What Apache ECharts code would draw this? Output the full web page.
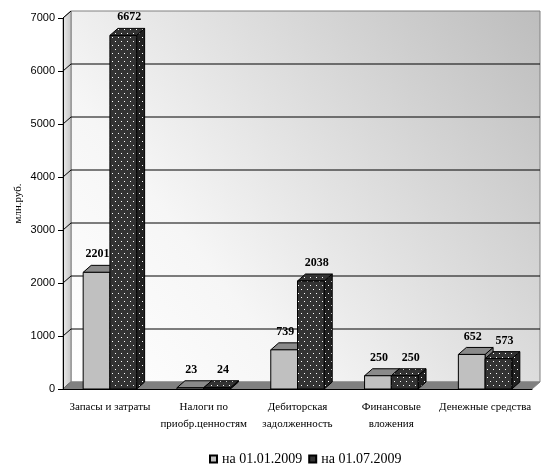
<!DOCTYPE html>
<html>
<head>
<meta charset="utf-8">
<script src="https://cdn.jsdelivr.net/npm/echarts@6/dist/echarts.min.js"></script>
<style>
  html, body { margin: 0; padding: 0; background: #fff; }
  #chart { width: 546px; height: 471px; }
</style>
</head>
<body>
<div id="chart"></div>
<script>
// категории и значения (млн.руб.)
const categories = ['Запасы и затраты', 'Налоги по\nприобр.ценностям', 'Дебиторская\nзадолженность', 'Финансовые\nвложения', 'Денежные средства'];
const seriesNames = ['на 01.01.2009', 'на 01.07.2009'];
const valuesJan = [2201, 23, 739, 250, 652];
const valuesJul = [6672, 24, 2038, 250, 573];
const yMax = 7000;
const yStep = 1000;

// смещение "глубины" для псевдо-3D
const DX = 8, DY = -7;

// точечная заливка для второй серии
function dotPattern(bg) {
    const c = document.createElement('canvas');
    c.width = 6; c.height = 8;
    const ctx = c.getContext('2d');
    ctx.fillStyle = bg;
    ctx.fillRect(0, 0, 6, 8);
    ctx.fillStyle = '#ffffff';
    ctx.fillRect(1, 1, 1, 1);
    ctx.fillRect(4, 5, 1, 1);
    return { image: c, repeat: 'repeat' };
}
const darkFront = dotPattern('#333333');
const darkSide = dotPattern('#222222');

const styles = [
    { front: '#c0c0c0', top: '#8a8a8a', side: '#7a7a7a', labelShift: 1 },
    { front: darkFront, top: darkFront, side: darkSide, labelShift: 6 }
];

// стенки и пол
function renderWalls(params, api) {
    const cs = params.coordSys;
    const left = cs.x, right = cs.x + cs.width;
    const y0 = api.coord([0, 0])[1];
    const yTop = api.coord([0, yMax])[1];
    const children = [];
    // задняя стенка
    children.push({
        type: 'rect',
        shape: { x: left + DX, y: yTop + DY, width: right - left, height: y0 - yTop },
        style: {
            fill: new echarts.graphic.LinearGradient(0, 1, 1, 0, [
                { offset: 0, color: '#ffffff' },
                { offset: 0.3, color: '#f6f6f6' },
                { offset: 1, color: '#bdbdbd' }
            ]),
            stroke: '#808080', lineWidth: 1
        }
    });
    // левая стенка
    children.push({
        type: 'polygon',
        shape: { points: [[left, yTop], [left + DX, yTop + DY], [left + DX, y0 + DY], [left, y0]] },
        style: {
            fill: new echarts.graphic.LinearGradient(0, 0, 1, 0, [
                { offset: 0, color: '#ececec' },
                { offset: 1, color: '#c4c4c4' }
            ]),
            stroke: '#808080', lineWidth: 1
        }
    });
    // линии сетки
    for (let v = 0; v <= yMax; v += yStep) {
        const y = api.coord([0, v])[1];
        if (v > 0 && v < yMax) {
            children.push({
                type: 'line',
                shape: { x1: left + DX, y1: y + DY, x2: right + DX, y2: y + DY },
                style: { stroke: '#000', lineWidth: 1 }
            });
        }
        children.push({
            type: 'line',
            shape: { x1: left, y1: y, x2: left + DX, y2: y + DY },
            style: { stroke: '#000', lineWidth: 1 }
        });
    }
    // пол
    children.push({
        type: 'polygon',
        shape: { points: [[left, y0], [left + DX, y0 + DY], [right + DX, y0 + DY], [right, y0]] },
        style: { fill: '#808080', stroke: '#808080', lineWidth: 1 }
    });
    return { type: 'group', children: children };
}

function barGeom(sIdx, api) {
    const idx = api.value(0);
    const val = api.value(1);
    const base = api.coord([idx, 0]);
    const top = api.coord([idx, val]);
    const w = api.size([1, 0])[0] * 0.285;
    const x0 = sIdx === 0 ? base[0] - w : base[0];
    return { val: val, x0: x0, w: w, yb: base[1], yt: Math.min(top[1], base[1] - 1) };
}

function makeBarRenderer(sIdx) {
    return function (params, api) {
        const g = barGeom(sIdx, api);
        const x0 = g.x0, w = g.w, yb = g.yb, yt = g.yt;
        const st = styles[sIdx];
        const line = { stroke: '#000', lineWidth: 1 };
        return {
            type: 'group',
            children: [
                {
                    type: 'polygon',
                    shape: { points: [[x0 + w, yt], [x0 + w + DX, yt + DY], [x0 + w + DX, yb + DY], [x0 + w, yb]] },
                    style: Object.assign({ fill: st.side }, line)
                },
                {
                    type: 'polygon',
                    shape: { points: [[x0, yt], [x0 + DX, yt + DY], [x0 + w + DX, yt + DY], [x0 + w, yt]] },
                    style: Object.assign({ fill: st.top }, line)
                },
                {
                    type: 'rect',
                    shape: { x: x0, y: yt, width: w, height: yb - yt },
                    style: Object.assign({ fill: st.front }, line)
                }
            ]
        };
    };
}

// подписи значений поверх всех столбиков
function makeLabelRenderer(sIdx) {
    return function (params, api) {
        const g = barGeom(sIdx, api);
        return {
            type: 'text',
            x: g.x0 + g.w / 2 + styles[sIdx].labelShift,
            y: g.yt + DY - 11,
            style: {
                text: String(g.val),
                fill: '#000',
                font: 'bold 12px "Liberation Serif"',
                align: 'center',
                verticalAlign: 'middle'
            }
        };
    };
}

const chart = echarts.init(document.getElementById('chart'));

const option = {
    animation: false,
    grid: { left: 63, right: 14, top: 18, bottom: 82 },
    legend: {
        data: seriesNames,
        top: 447,
        left: 204,
        icon: 'rect',
        itemWidth: 7,
        itemHeight: 7,
        itemGap: 6,
        textStyle: { fontFamily: 'Liberation Serif', fontSize: 14, color: '#000', padding: [0, 0, 0, 0] }
    },
    xAxis: {
        type: 'category',
        data: categories,
        axisLine: { lineStyle: { color: '#000' } },
        axisTick: { length: 5, lineStyle: { color: '#000' } },
        axisLabel: {
            color: '#000',
            fontFamily: 'Liberation Serif',
            fontSize: 11,
            lineHeight: 17,
            margin: 10,
            interval: 0
        },
        z: 10
    },
    yAxis: {
        type: 'value',
        min: 0,
        max: yMax,
        interval: yStep,
        name: 'млн.руб.',
        nameLocation: 'middle',
        nameGap: 39,
        nameRotate: 90,
        nameMoveOverlap: false,
        nameTextStyle: { fontFamily: 'Liberation Serif', fontSize: 11, color: '#000' },
        axisLine: { show: true, lineStyle: { color: '#000' } },
        axisTick: { show: true, length: 5, lineStyle: { color: '#000' } },
        axisLabel: {
            color: '#000', fontFamily: 'Liberation Sans', fontSize: 11, margin: 8,
            formatter: v => String(v)
        },
        splitLine: { show: false },
        z: 10
    },
    series: [
        {
            type: 'custom',
            name: 'walls',
            renderItem: renderWalls,
            data: [[0, 0]],
            silent: true,
            z: 1
        },
        {
            type: 'custom',
            name: seriesNames[0],
            renderItem: makeBarRenderer(0),
            data: valuesJan.map((v, i) => [i, v]),
            encode: { x: 0, y: 1 },
            itemStyle: { color: '#c0c0c0', borderColor: '#000', borderWidth: 1 },
            z: 2
        },
        {
            type: 'custom',
            name: seriesNames[1],
            renderItem: makeBarRenderer(1),
            data: valuesJul.map((v, i) => [i, v]),
            encode: { x: 0, y: 1 },
            itemStyle: { color: '#333333', borderColor: '#000', borderWidth: 1 },
            z: 3
        },
        {
            type: 'custom',
            name: 'labelsJan',
            renderItem: makeLabelRenderer(0),
            data: valuesJan.map((v, i) => [i, v]),
            encode: { x: 0, y: 1 },
            silent: true,
            z: 5
        },
        {
            type: 'custom',
            name: 'labelsJul',
            renderItem: makeLabelRenderer(1),
            data: valuesJul.map((v, i) => [i, v]),
            encode: { x: 0, y: 1 },
            silent: true,
            z: 5
        }
    ]
};

chart.setOption(option);
</script>
</body>
</html>
